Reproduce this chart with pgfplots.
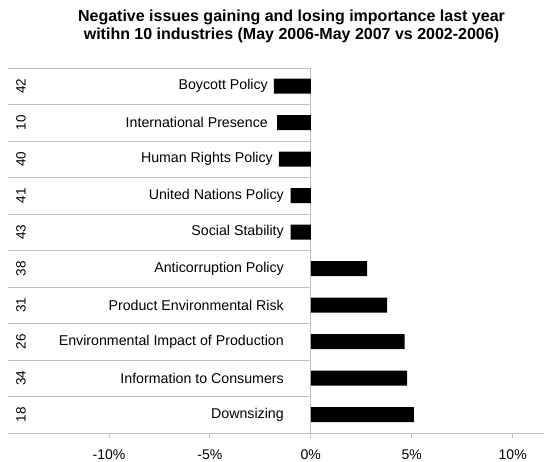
\documentclass[border=0pt]{standalone}
\usepackage{pgfplots}
\pgfplotsset{compat=1.18}
\usepackage{pgfplotstable}
\usepackage{fontspec}
\setmainfont{Liberation Sans}
\usepackage{graphicx}

\pgfplotstableread{
y val
10 -1.83
9 -1.67
8 -1.58
7 -1.00
6 -1.00
5 2.79
4 3.78
3 4.65
2 4.77
1 5.11
}\datatable

\definecolor{linegray}{RGB}{192,192,192}

\begin{document}
\begin{tikzpicture}
\begin{axis}[
 at={(0,0)}, anchor=south west,
 scale only axis, width=536pt, height=365pt,
 xmin=-15, xmax=11.55, ymin=0.5, ymax=10.5,
 axis line style={draw=none},
 clip=false,
 xtick={-10,-5,0,5,10},
 xticklabels={-10\%,-5\%,0\%,5\%,10\%},
 xtick pos=bottom, tick align=outside, major tick length=5pt,
 xtick style={draw=linegray, line width=0.8pt},
 xticklabel style={font=\fontsize{14}{16}\selectfont, anchor=north, inner sep=0pt, yshift=-12pt},
 ytick={1,...,10},
 yticklabels={Downsizing, Information to Consumers, Environmental Impact of Production, Product Environmental Risk, Anticorruption Policy, Social Stability, United Nations Policy, Human Rights Policy\kern11pt, International Presence\kern16pt, Boycott Policy\kern16pt},
 ytick style={draw=none},
 yticklabel style={font=\fontsize{14.2}{16}\selectfont, anchor=east, inner sep=0pt, xshift=281pt},
 extra y ticks={1,...,10},
 extra y tick labels={\rotatebox{90}{18},\rotatebox{90}{34},\rotatebox{90}{26},\rotatebox{90}{31},\rotatebox{90}{38},\rotatebox{90}{43},\rotatebox{90}{41},\rotatebox{90}{40},\rotatebox{90}{10},\rotatebox{90}{42}},
 extra y tick style={ytick style={draw=none}, yticklabel style={anchor=center, xshift=-263pt, font=\fontsize{13.5}{15}\selectfont}},
 title={Negative issues gaining and losing importance last year\\ witihn 10 industries (May 2006-May 2007 vs 2002-2006)},
 title style={font=\fontsize{16}{18}\selectfont\bfseries, align=center, anchor=south, at={(0.5,1)}, xshift=15.5pt, yshift=19pt, inner sep=0pt},
]
\pgfplotsinvokeforeach{1.5,2.5,3.5,4.5,5.5,6.5,7.5,8.5,9.5,10.5}{
  \draw[linegray, line width=0.8pt] (axis cs:-15,#1) -- (axis cs:0,#1);
}
\draw[linegray, line width=0.8pt] (axis cs:-15,0.5) -- (axis cs:11.55,0.5);
\draw[linegray, line width=0.8pt] (axis cs:0,0.5) -- (axis cs:0,10.5);
\addplot[xbar, bar width=15pt, fill=black, draw=none] table[x=val, y=y] {\datatable};
\end{axis}
\pgfresetboundingbox
\path[use as bounding box] (-8pt,-29pt) rectangle (536pt,433pt);
\end{tikzpicture}
\end{document}
